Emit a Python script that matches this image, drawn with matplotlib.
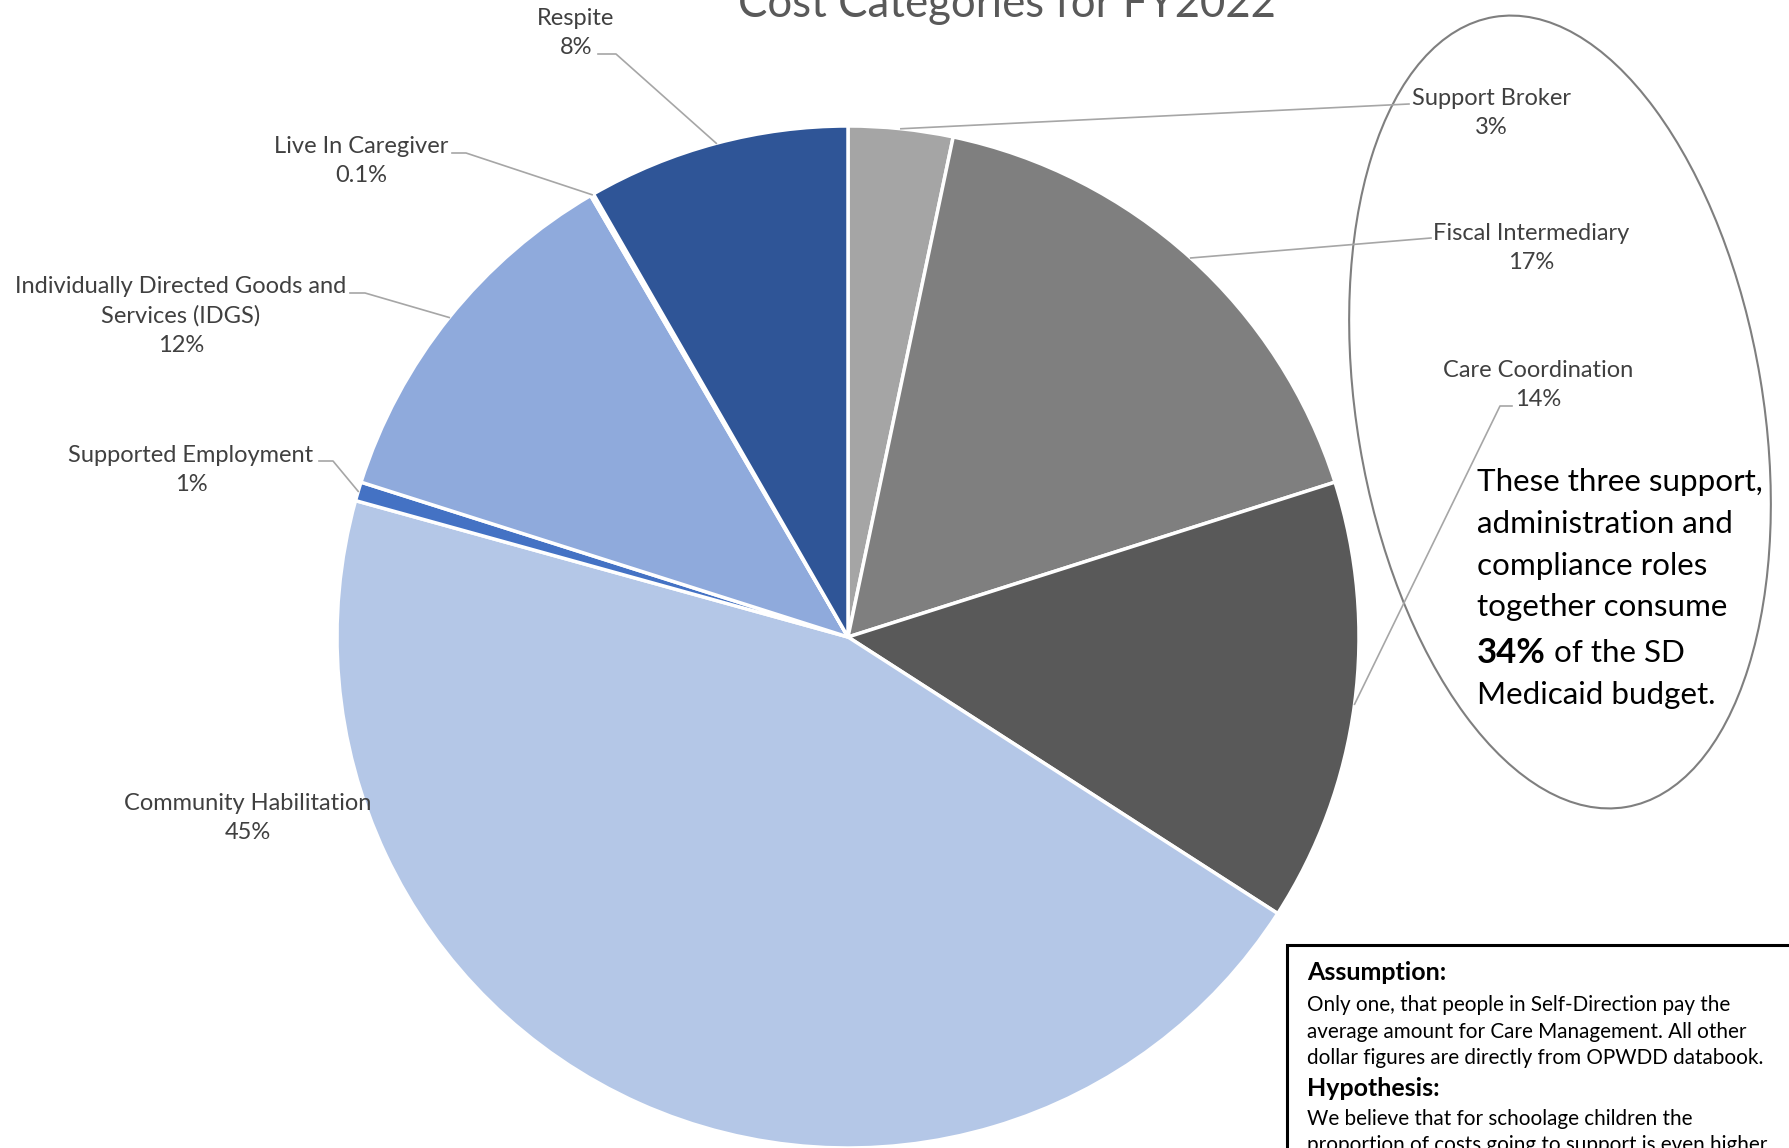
import numpy as np
import matplotlib.pyplot as plt
from matplotlib.patches import Ellipse, Rectangle

# %% data
categories = ["Support Broker", "Fiscal Intermediary", "Care Coordination",
              "Community Habilitation", "Supported Employment",
              "Individually Directed Goods and\nServices (IDGS)",
              "Live In Caregiver", "Respite"]
shares = [3.3, 16.8, 14.0, 45.2, 0.6, 11.7, 0.1, 8.3]
pct_text = ["3%", "17%", "14%", "45%", "1%", "12%", "0.1%", "8%"]
colors = ["#A5A5A5", "#7F7F7F", "#595959", "#B4C7E7",
          "#4472C4", "#8FAADC", "#2F5597", "#2F5597"]

title = "Cost Categories for FY2022"
callout_lines = ["These three support,", "administration and",
                 "compliance roles", "together consume"]
callout_bold = "34%"
callout_rest = [" of the SD", "Medicaid budget."]
note_head1 = "Assumption:"
note_body1 = ["Only one, that people in Self-Direction pay the",
              "average amount for Care Management. All other",
              "dollar figures are directly from OPWDD databook."]
note_head2 = "Hypothesis:"
note_body2 = ["We believe that for schoolage children the",
              "proportion of costs going to support is even higher"]

# %% layout (pixel coords, y down)
W, H = 1789, 1148
center = (848, 637)
radius = 511
label_xy = [(1491, 113), (1531, 248), (1538, 385), (248, 818),
            (191, 470), (181, 316), (361, 161), (576, 33)]
leader_pts = [[(1409, 104)], [(1431, 238)], [(1500, 406), (1512, 406)], None,
              [(333, 461), (319, 461)], [(365, 293), (350, 293)],
              [(466, 153), (452, 153)], [(616, 54), (598, 54)]]

FONT = "Lato"
LABEL_C = "#404040"

fig = plt.figure(figsize=(W / 100, H / 100), dpi=100)
ax = fig.add_axes([0, 0, 1, 1])

wedges, _ = ax.pie(shares, colors=colors, startangle=-90, counterclock=True,
                   center=center, radius=radius, frame=True,
                   wedgeprops=dict(edgecolor="white", linewidth=2.5))
ax.set_xlim(0, W)
ax.set_ylim(H, 0)
ax.axis("off")

# data labels + leader lines
for w, name, pct, (lx, ly), pts in zip(wedges, categories, pct_text, label_xy, leader_pts):
    ax.text(lx, ly, name + "\n" + pct, ha="center", va="center", fontsize=17,
            family=FONT, color=LABEL_C, linespacing=1.5)
    if pts is None:
        continue
    mid = np.deg2rad((w.theta1 + w.theta2) / 2)
    sx = center[0] + radius * np.cos(mid)
    sy = center[1] + radius * np.sin(mid)
    xs = [sx] + [p[0] for p in pts]
    ys = [sy] + [p[1] for p in pts]
    ax.plot(xs, ys, color="#A6A6A6", lw=1.2)

# title (clipped at the top like the source)
ax.text(1007, 17, title, ha="center", va="baseline", fontsize=31.5,
        family=FONT, color="#595959")

# ellipse callout
ax.add_patch(Ellipse((1560, 412), width=406, height=801, angle=-9.5,
                     fill=False, edgecolor="#7F7F7F", lw=1.5))
cy = [482, 524, 566, 607, 653, 695]
for y, line in zip(cy, callout_lines):
    ax.text(1477, y, line, ha="left", va="center", fontsize=22.6, family=FONT, color="black")
t34 = ax.text(1477, cy[4], callout_bold, ha="left", va="center", fontsize=25,
              family=FONT, weight="bold", color="black")
fig.canvas.draw()
x_end = t34.get_window_extent().x1
ax.text(x_end, cy[4], callout_rest[0], ha="left", va="center", fontsize=22.6,
        family=FONT, color="black")
ax.text(1477, cy[5], callout_rest[1], ha="left", va="center", fontsize=22.6,
        family=FONT, color="black")

# note box in the corner
ax.add_patch(Rectangle((1287, 945), W, H, facecolor="white", edgecolor="black", lw=2.2))
ax.text(1307, 973, note_head1, ha="left", va="center", fontsize=18,
        family=FONT, weight="bold", color="black")
for y, line in zip([1005, 1032, 1058], note_body1):
    ax.text(1307, y, line, ha="left", va="center", fontsize=14.9, family=FONT, color="black")
ax.text(1307, 1089, note_head2, ha="left", va="center", fontsize=18,
        family=FONT, weight="bold", color="black")
for y, line in zip([1119, 1145], note_body2):
    ax.text(1307, y, line, ha="left", va="center", fontsize=14.9, family=FONT, color="black")

fig.savefig("out.png", dpi=100)
